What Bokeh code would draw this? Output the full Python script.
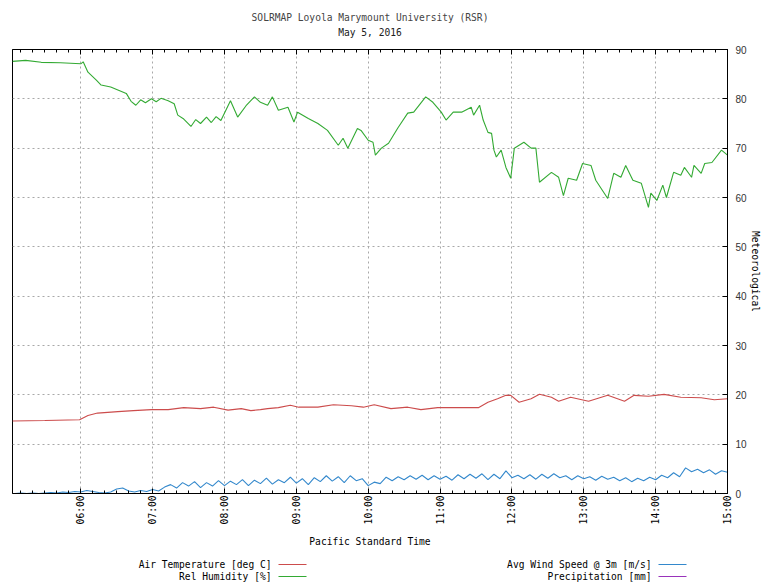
import math
from bokeh.plotting import figure
from bokeh.layouts import column
from bokeh.models import Range1d, FixedTicker, LinearAxis, Label, BoxAnnotation, Title
from bokeh.embed import file_html
from bokeh.resources import INLINE

# ---------------- data ----------------
title_line1 = "SOLRMAP Loyola Marymount University (RSR)"
title_line2 = "May 5, 2016"
x_title = "Pacific Standard Time"
y2_title = "Meteorological"

hour_ticks = [6, 7, 8, 9, 10, 11, 12, 13, 14, 15]
hour_labels = ["06:00", "07:00", "08:00", "09:00", "10:00",
               "11:00", "12:00", "13:00", "14:00", "15:00"]
y_ticks = [0, 10, 20, 30, 40, 50, 60, 70, 80, 90]

series_names = ["Air Temperature [deg C]", "Rel Humidity [%]",
                "Avg Wind Speed @ 3m [m/s]", "Precipitation [mm]"]

temp_times = ["05:03", "05:30", "05:59", "06:06", "06:14", "06:31", "06:44", "06:59",
              "07:13", "07:26", "07:40", "07:51", "08:03", "08:14", "08:22", "08:30",
              "08:36", "08:45", "08:55", "09:02", "09:18", "09:31", "09:46", "09:56",
              "10:05", "10:19", "10:33", "10:44", "10:58", "11:15", "11:32", "11:40",
              "11:48", "11:51", "11:55", "11:59", "12:06", "12:16", "12:23", "12:33",
              "12:39", "12:49", "13:04", "13:20", "13:34", "13:42", "13:54", "14:07",
              "14:21", "14:38", "14:49", "15:00"]
temp_values = [14.7, 14.8, 14.95, 15.8, 16.3, 16.6, 16.8, 17.0,
               17.0, 17.4, 17.2, 17.5, 16.9, 17.2, 16.8, 17.0,
               17.2, 17.4, 17.9, 17.5, 17.5, 18.0, 17.8, 17.5,
               18.0, 17.2, 17.5, 17.0, 17.4, 17.4, 17.4, 18.5,
               19.2, 19.5, 19.9, 19.9, 18.5, 19.2, 20.1, 19.5,
               18.7, 19.5, 18.7, 19.9, 18.7, 19.9, 19.7, 20.1,
               19.5, 19.4, 19.0, 19.2]

hum_times = ["05:03", "05:14", "05:27", "05:43", "06:00", "06:02", "06:06", "06:13",
             "06:17", "06:25", "06:32", "06:38", "06:42", "06:46", "06:50", "06:54",
             "06:59", "07:03", "07:07", "07:13", "07:18", "07:21", "07:26", "07:32",
             "07:36", "07:40", "07:45", "07:49", "07:53", "07:57", "08:05", "08:11",
             "08:18", "08:25", "08:30", "08:36", "08:40", "08:45", "08:53", "08:58",
             "09:01", "09:10", "09:18", "09:26", "09:35", "09:39", "09:43", "09:51",
             "09:54", "10:00", "10:04", "10:06", "10:11", "10:17", "10:25", "10:33",
             "10:38", "10:48", "10:54", "11:01", "11:05", "11:11", "11:18", "11:26",
             "11:28", "11:33", "11:36", "11:40", "11:43", "11:45", "11:47", "11:51",
             "11:55", "11:59", "12:02", "12:10", "12:16", "12:20", "12:23", "12:33",
             "12:39", "12:43", "12:47", "12:54", "12:59", "13:06", "13:10", "13:20",
             "13:25", "13:31", "13:35", "13:41", "13:48", "13:54", "13:56", "14:01",
             "14:06", "14:09", "14:15", "14:21", "14:24", "14:30", "14:32", "14:38",
             "14:41", "14:47", "14:55", "15:00"]
hum_values = [87.6, 87.8, 87.4, 87.3, 87.1, 87.5, 85.4, 83.8,
              82.8, 82.4, 81.7, 81.1, 79.5, 78.7, 79.8, 79.2,
              80.0, 79.4, 80.1, 79.6, 79.0, 76.7, 75.9, 74.4,
              75.8, 75.0, 76.3, 75.2, 76.4, 75.6, 79.6, 76.3,
              78.6, 80.4, 79.3, 78.7, 80.4, 77.7, 78.3, 75.3,
              77.3, 76.0, 75.0, 73.6, 70.6, 72.0, 70.0, 74.0,
              73.6, 71.6, 71.2, 68.6, 70.0, 71.0, 74.2, 77.1,
              77.3, 80.4, 79.3, 77.3, 75.7, 77.3, 77.3, 78.3,
              76.7, 78.7, 75.7, 73.2, 73.0, 69.6, 68.2, 69.6,
              66.1, 63.9, 70.0, 71.2, 70.0, 70.0, 63.1, 65.1,
              64.1, 60.4, 63.9, 63.5, 66.9, 66.5, 63.5, 59.8,
              64.9, 64.1, 66.5, 63.5, 62.9, 58.0, 60.9, 59.4,
              62.5, 60.0, 65.1, 64.5, 66.1, 64.1, 66.5, 64.9,
              66.9, 67.1, 69.6, 68.6]

wind_times = ["05:05", "05:10", "05:15", "05:20", "05:25", "05:30", "05:35", "05:40", "05:45", "05:50", "05:55",
              "06:00", "06:05", "06:10", "06:15", "06:20", "06:25", "06:30", "06:35", "06:40", "06:45", "06:50", "06:55",
              "07:00", "07:05", "07:10", "07:15", "07:20", "07:25", "07:30", "07:35", "07:40", "07:45", "07:50", "07:55",
              "08:00", "08:05", "08:10", "08:15", "08:20", "08:25", "08:30", "08:35", "08:40", "08:45", "08:50", "08:55",
              "09:00", "09:05", "09:10", "09:15", "09:20", "09:25", "09:30", "09:35", "09:40", "09:45", "09:50", "09:55",
              "10:00", "10:05", "10:10", "10:15", "10:20", "10:25", "10:30", "10:35", "10:40", "10:45", "10:50", "10:55",
              "11:00", "11:05", "11:10", "11:15", "11:20", "11:25", "11:30", "11:35", "11:40", "11:45", "11:50", "11:55",
              "12:00", "12:05", "12:10", "12:15", "12:20", "12:25", "12:30", "12:35", "12:40", "12:45", "12:50", "12:55",
              "13:00", "13:05", "13:10", "13:15", "13:20", "13:25", "13:30", "13:35", "13:40", "13:45", "13:50", "13:55",
              "14:00", "14:05", "14:10", "14:15", "14:20", "14:25", "14:30", "14:35", "14:40", "14:45", "14:50", "14:55",
              "15:00"]
wind_values = [0.0, 0.1, 0.0, 0.1, 0.0, 0.1, 0.2, 0.1, 0.3, 0.2, 0.4,
               0.3, 0.6, 0.4, 0.2, 0.1, 0.3, 0.9, 1.1, 0.5, 0.3, 0.6, 0.4,
               0.8, 0.5, 1.3, 1.8, 1.1, 2.2, 1.5, 2.4, 1.2, 2.2, 1.5, 2.6,
               1.6, 2.5, 1.8, 2.8, 1.6, 2.7, 2.0, 3.1, 1.9, 2.8, 2.2, 3.3,
               2.1, 3.0, 1.8, 3.2, 2.4, 3.6, 2.5, 3.4, 2.2, 3.6, 2.6, 3.0,
               1.6, 2.3, 2.0, 3.3, 2.6, 3.4, 2.8, 3.6, 2.9, 3.7, 2.8, 3.6,
               2.9, 3.5, 2.7, 3.8, 3.0, 3.9, 3.1, 4.0, 2.8, 3.9, 3.0, 4.6,
               3.2, 3.7, 3.0, 3.8, 2.9, 3.9, 3.1, 4.0, 3.2, 3.6, 2.8, 3.6,
               3.0, 3.4, 2.7, 3.5, 2.9, 3.3, 2.6, 3.2, 2.4, 3.1, 2.6, 3.3,
               2.8, 3.7, 3.2, 4.2, 3.4, 5.2, 4.4, 4.9, 4.2, 4.8, 3.9, 4.6,
               4.3]

# ---------------- helpers / styles ----------------
def hours(t):
    h, m = t.split(":")
    return int(h) + int(m) / 60.0

MONO = "DejaVu Sans Mono"
FS = "9.6px"
C_TEMP = "#cc4c4c"
C_HUM = "#33aa33"
C_WIND = "#3388cc"
C_PREC = "#9933bb"

p = figure(width=764, height=552, output_backend="svg", toolbar_location=None,
           x_range=Range1d(hours(hum_times[0]), hours(hum_times[-1])),
           y_range=Range1d(y_ticks[0], y_ticks[-1]),
           y_axis_location="right",
           min_border_left=12, min_border_right=37, min_border_top=49, min_border_bottom=59,
           background_fill_color="white", border_fill_color="white")
p.outline_line_color = "black"
p.outline_line_width = 1

minor = [h + k / 6.0 for h in range(5, 15) for k in range(1, 6)]
xticker = FixedTicker(ticks=hour_ticks, minor_ticks=minor)

xaxis = p.below[0]
xaxis.ticker = xticker
xaxis.major_label_overrides = {h: lab for h, lab in zip(hour_ticks, hour_labels)}
xaxis.major_label_orientation = math.pi / 2
xaxis.major_label_text_font = MONO
xaxis.major_label_text_font_size = FS
xaxis.major_label_text_color = "black"
xaxis.major_label_standoff = 2
xaxis.major_tick_in = 5
xaxis.major_tick_out = 0
xaxis.minor_tick_in = 3
xaxis.minor_tick_out = 0
xaxis.axis_line_color = "black"
xaxis.axis_label = x_title
xaxis.axis_label_text_font = MONO
xaxis.axis_label_text_font_size = FS
xaxis.axis_label_text_font_style = "normal"
xaxis.axis_label_text_color = "black"
xaxis.axis_label_standoff = 9

# mirrored top ticks; its (otherwise empty) label slot carries the date line of the title
top = LinearAxis(ticker=xticker, major_tick_in=5, major_tick_out=0,
                 minor_tick_in=3, minor_tick_out=0,
                 major_label_overrides={h: "" for h in hour_ticks},
                 major_label_standoff=0, axis_line_color="black",
                 axis_label=title_line2, axis_label_standoff=12,
                 axis_label_text_font=MONO, axis_label_text_font_size=FS,
                 axis_label_text_font_style="normal", axis_label_text_color="#202020")
p.add_layout(top, "above")

yaxis = p.right[0]
yaxis.ticker = FixedTicker(ticks=y_ticks, minor_ticks=[])
yaxis.major_tick_in = 5
yaxis.major_tick_out = 0
yaxis.minor_tick_line_color = None
yaxis.major_label_text_font = "Liberation Sans"
yaxis.major_label_text_font_size = "10px"
yaxis.major_label_text_color = "#333333"
yaxis.major_label_standoff = 8
yaxis.axis_line_color = "black"
yaxis.axis_label = y2_title
yaxis.axis_label_text_font = MONO
yaxis.axis_label_text_font_size = FS
yaxis.axis_label_text_font_style = "normal"
yaxis.axis_label_text_color = "black"
yaxis.axis_label_standoff = 0

for g in (p.xgrid, p.ygrid):
    g.grid_line_color = "#a8a8a8"
    g.grid_line_dash = "2 3"
    g.grid_line_width = 1

p.line([hours(t) for t in temp_times], temp_values, line_color=C_TEMP, line_width=1.1)
p.line([hours(t) for t in hum_times], hum_values, line_color=C_HUM, line_width=1.1)
p.line([hours(t) for t in wind_times], wind_values, line_color=C_WIND, line_width=1.1)

# first title line above the date line
p.add_layout(Title(text=title_line1, align="center", text_font=MONO, text_font_size=FS,
                   text_font_style="normal", standoff=2), "above")

# ---------------- legend strip below ----------------
# (in a column layout the strip's frame is aligned with the main frame, x from its left edge)
leg = figure(width=764, height=36, output_backend="svg", toolbar_location=None,
             x_range=Range1d(0, 1), y_range=Range1d(0, 1),
             x_axis_location=None, y_axis_location=None,
             min_border=0, outline_line_color=None,
             background_fill_color="white", border_fill_color="white")
leg.grid.visible = False

legend_rows = [(259, 24, series_names[0], C_TEMP),
               (259, 12, series_names[1], C_HUM),
               (639, 24, series_names[2], C_WIND),
               (639, 12, series_names[3], C_PREC)]
for x, y, name, col in legend_rows:
    leg.add_layout(Label(x=x, y=y, x_units="screen", y_units="screen", text=name,
                         text_align="right", text_baseline="middle",
                         text_font=MONO, text_font_size=FS, text_color="black"))
    leg.add_layout(BoxAnnotation(left=x + 7, right=x + 35, bottom=y - 0.5, top=y + 0.5,
                                 left_units="screen", right_units="screen",
                                 bottom_units="screen", top_units="screen",
                                 fill_color=col, fill_alpha=1.0, line_color=None))

layout = column(p, leg, spacing=0)
open("out.html", "w").write(file_html(layout, INLINE))
